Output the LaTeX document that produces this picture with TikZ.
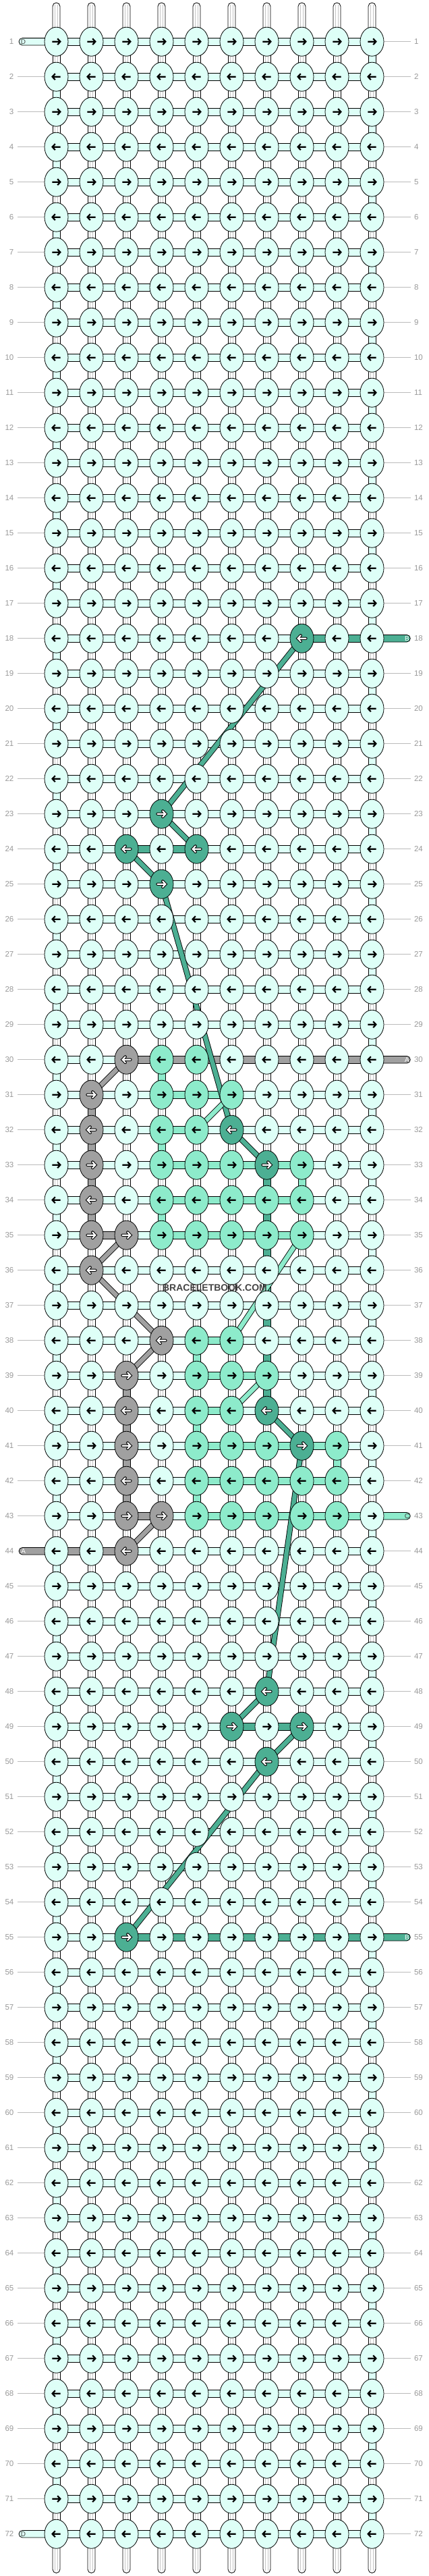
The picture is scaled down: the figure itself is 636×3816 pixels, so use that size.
\documentclass[tikz,border=0pt]{standalone}
\usepackage{fontspec}
\setmainfont{Liberation Sans}
\usetikzlibrary{shapes.geometric}
\definecolor{colD}{HTML}{DEFFF7}
\definecolor{colB}{HTML}{4CAF93}
\definecolor{colC}{HTML}{8DEBCB}
\definecolor{colA}{HTML}{A0A0A0}
\definecolor{colW}{HTML}{FFFFFF}
\definecolor{lblgray}{HTML}{999999}
\definecolor{linegray}{HTML}{BBBBBB}
\definecolor{tubegray}{HTML}{C4C4C4}
\definecolor{wmgray}{HTML}{444444}
\newcommand\SetK[3]{\expandafter\gdef\csname K-#1-#2\endcsname{#3}}
\newcommand\SetH[3]{\expandafter\gdef\csname H-#1-#2\endcsname{#3}}
\newcommand\SetV[3]{\expandafter\gdef\csname V-#1-#2\endcsname{#3}}
\def\tmpW{W}\def\tmpA{A}\def\tmpB{B}
\begin{document}
\begin{tikzpicture}[x=1pt,y=-1pt,
  knot/.style={ellipse,draw=black,line width=0.8pt,minimum width=35pt,minimum height=43pt,inner sep=0pt},
  segline/.style={draw=black,line width=0.8pt},
  lbl/.style={text=lblgray,font=\fontsize{11.5}{12}\selectfont,inner sep=0pt},
  lblline/.style={draw=linegray,line width=0.8pt},
  tubeline/.style={draw=tubegray,line width=0.5pt},
  arrowblack/.style={draw=black,line width=2.2pt,line join=miter},
  arrowout/.style={draw=black,line width=4.2pt,line join=miter,line cap=round},
  arrowwhite/.style={draw=white,line width=2.1pt,line join=miter,line cap=round}]
\useasboundingbox (0,0) rectangle (636,3816);
\fill[white] (0,0) rectangle (636,3816);
% ---------- data ----------
\foreach \cc/\rr in {8/18,4/23,3/24,5/24,4/25,6/32,7/33,7/40,8/41,7/48,6/49,8/49,7/50,3/55}{\SetK{\cc}{\rr}{B}}
\foreach \cc/\rr in {3/30,2/31,2/32,2/33,2/34,2/35,3/35,2/36,4/38,3/39,3/40,3/41,3/42,3/43,4/43,3/44}{\SetK{\cc}{\rr}{A}}
\foreach \cc/\rr in {4/30,5/30,4/31,5/31,6/31,4/32,5/32,4/33,5/33,6/33,8/33,4/34,5/34,6/34,7/34,8/34,4/35,5/35,6/35,7/35,8/35,5/38,6/38,5/39,6/39,7/39,5/40,6/40,5/41,6/41,7/41,9/41,5/42,6/42,7/42,8/42,9/42,5/43,6/43,7/43,8/43,9/43}{\SetK{\cc}{\rr}{C}}
\foreach \cc/\rr in {8/18,9/18,3/24,4/24,6/49,7/49,3/55,4/55,5/55,6/55,7/55,8/55,9/55}{\SetH{\cc}{\rr}{B}}
\foreach \cc/\rr in {3/30,4/30,5/30,6/30,7/30,8/30,9/30,2/35,3/43,1/44,2/44}{\SetH{\cc}{\rr}{A}}
\foreach \cc/\rr in {4/31,5/31,4/32,4/33,5/33,6/33,7/33,4/34,5/34,6/34,7/34,4/35,5/35,6/35,7/35,5/38,5/39,6/39,5/40,5/41,6/41,7/41,8/41,5/42,6/42,7/42,8/42,5/43,6/43,7/43,8/43,9/43}{\SetH{\cc}{\rr}{C}}
\foreach \cc/\rr in {2/31,2/32,2/33,2/34,3/39,3/40,3/41,3/42}{\SetV{\cc}{\rr}{A}}
\foreach \cc/\rr in {7/33,7/34,7/35,7/36,7/37,7/38,7/39}{\SetV{\cc}{\rr}{B}}
\foreach \cc/\rr in {4/30,4/32,4/34,8/33,5/38,5/40,5/42,9/41}{\SetV{\cc}{\rr}{C}}
% ---------- grid points ----------
\foreach \rr in {1,...,72}{\foreach \cc in {1,...,10}{
  \coordinate (p-\cc-\rr) at ({83.5+52*(\cc-1)},{61.7+52*(\rr-1)});}}
% ---------- top and bottom string ends ----------
\foreach \cc in {1,...,10}{
  \coordinate (t-\cc) at ({83.5+52*(\cc-1)},9.5);
  \coordinate (b-\cc) at ({83.5+52*(\cc-1)},3806);
  \filldraw[fill=white,segline] ([xshift=-5.5pt]p-\cc-1) -- ([xshift=-5.5pt]t-\cc) arc[start angle=180,end angle=360,radius=5.5] -- ([xshift=5.5pt]p-\cc-1) -- cycle;
  \draw[tubeline] ([xshift=-2pt,yshift=2pt]t-\cc) -- ([xshift=-2pt]p-\cc-1) ([xshift=2pt,yshift=2pt]t-\cc) -- ([xshift=2pt]p-\cc-1);
  \filldraw[fill=white,segline] ([xshift=5.5pt]p-\cc-72) -- ([xshift=5.5pt]b-\cc) arc[start angle=0,end angle=180,radius=5.5] -- ([xshift=-5.5pt]p-\cc-72) -- cycle;
  \draw[tubeline] ([xshift=-2pt,yshift=-2pt]b-\cc) -- ([xshift=-2pt]p-\cc-72) ([xshift=2pt,yshift=-2pt]b-\cc) -- ([xshift=2pt]p-\cc-72);
}
% ---------- vertical segments ----------
\foreach \rr in {1,...,71}{
  \pgfmathtruncatemacro\rn{\rr+1}
  \foreach \cc in {1,...,10}{
    \ifcsname V-\cc-\rr\endcsname
      \xdef\vcol{\csname V-\cc-\rr\endcsname}%
    \else
      \gdef\vcol{W}%
      \ifodd\rr\relax \ifnum\cc=10\relax\gdef\vcol{D}\fi \else \ifnum\cc=1\relax\gdef\vcol{D}\fi \fi
    \fi
    \ifx\vcol\tmpW
      \filldraw[fill=white,segline] ([xshift=-5.5pt]p-\cc-\rr) rectangle ([xshift=5.5pt]p-\cc-\rn);
      \draw[tubeline] ([xshift=-2pt]p-\cc-\rr) -- ([xshift=-2pt]p-\cc-\rn) ([xshift=2pt]p-\cc-\rr) -- ([xshift=2pt]p-\cc-\rn);
    \else
      \filldraw[fill=col\vcol,segline] ([xshift=-5.5pt]p-\cc-\rr) rectangle ([xshift=5.5pt]p-\cc-\rn);
    \fi
  }
}
% ---------- horizontal segments ----------
\foreach \rr in {1,...,72}{
  \foreach \cc in {1,...,9}{
    \pgfmathtruncatemacro\cn{\cc+1}
    \ifcsname H-\cc-\rr\endcsname
      \xdef\hcol{\csname H-\cc-\rr\endcsname}%
    \else
      \gdef\hcol{D}%
    \fi
    \filldraw[fill=col\hcol,segline] ([yshift=5.3pt]p-\cc-\rr) rectangle ([yshift=-5.3pt]p-\cn-\rr);
  }
}
% ---------- side string ends ----------
\foreach \rr/\tc/\tl/\tlc in {1/D/D/wmgray,72/D/D/wmgray,44/A/A/white}{
  \coordinate (el-\rr) at (33.3,{61.7+52*(\rr-1)});
  \filldraw[fill=col\tc,segline] ([yshift=5.3pt]p-1-\rr) -- ([yshift=5.3pt]el-\rr) arc[start angle=270,end angle=90,radius=5.3] -- ([yshift=-5.3pt]p-1-\rr) -- cycle;
  \node[text=\tlc,font=\fontsize{10}{10}\selectfont,inner sep=0pt] (elt-\rr) at ([xshift=1.3pt]el-\rr) {\tl};
}
\foreach \rr/\tc/\tl/\tlc in {18/B/B/white,30/A/A/white,43/C/C/wmgray,55/B/B/white}{
  \coordinate (er-\rr) at (603,{61.7+52*(\rr-1)});
  \filldraw[fill=col\tc,segline] ([yshift=5.3pt]p-10-\rr) -- ([yshift=5.3pt]er-\rr) arc[start angle=-90,end angle=90,radius=5.3] -- ([yshift=-5.3pt]p-10-\rr) -- cycle;
  \node[text=\tlc,font=\fontsize{10}{10}\selectfont,inner sep=0pt] (ert-\rr) at ([xshift=0.5pt]er-\rr) {\tl};
}
% ---------- row label lines ----------
\foreach \rr in {1,...,72}{
  \coordinate (ll-\rr) at (26,{61.7+52*(\rr-1)});
  \coordinate (lr-\rr) at (609,{61.7+52*(\rr-1)});
  \ifnum\rr=1\relax\else\ifnum\rr=72\relax\else\ifnum\rr=44\relax\else
    \draw[lblline] (ll-\rr) -- (p-1-\rr);
  \fi\fi\fi
  \ifnum\rr=18\relax\else\ifnum\rr=30\relax\else\ifnum\rr=43\relax\else\ifnum\rr=55\relax\else
    \draw[lblline] (p-10-\rr) -- (lr-\rr);
  \fi\fi\fi\fi
}
% ---------- diagonal strings ----------
\foreach \dc/\ca/\ra/\cb/\rb in {B/8/18/4/23,B/4/23/5/24,B/3/24/4/25,B/4/25/6/32,B/6/32/7/33,B/7/40/8/41,B/8/41/7/48,B/7/48/6/49,B/8/49/7/50,B/7/50/3/55,
  A/3/30/2/31,A/3/35/2/36,A/2/36/4/38,A/4/38/3/39,A/4/43/3/44,
  C/6/31/5/32,C/8/35/6/38,C/7/39/6/40}{
  \draw[black,line width=8.4pt] (p-\ca-\ra) -- (p-\cb-\rb);
  \draw[col\dc,line width=6.6pt] (p-\ca-\ra) -- (p-\cb-\rb);
}
% ---------- knots ----------
\foreach \rr in {1,...,72}{
  \ifodd\rr\relax\gdef\ad{1}\else\gdef\ad{-1}\fi
  \foreach \cc in {1,...,10}{
    \ifcsname K-\cc-\rr\endcsname
      \xdef\kcol{\csname K-\cc-\rr\endcsname}%
    \else
      \gdef\kcol{D}%
    \fi
    \node[knot,fill=col\kcol] (k-\cc-\rr) at (p-\cc-\rr) {};
    \gdef\wa{0}%
    \ifx\kcol\tmpA\gdef\wa{1}\fi
    \ifx\kcol\tmpB\gdef\wa{1}\fi
    \begin{scope}[shift={(k-\cc-\rr.center)},xscale=\ad]
      \ifnum\wa=1\relax
        \draw[arrowout] (-6,0) -- (5,0) (1.7,-4.4) -- (5.9,0) -- (1.7,4.4);
        \draw[arrowwhite] (-6,0) -- (5,0) (1.7,-4.4) -- (5.9,0) -- (1.7,4.4);
      \else
        \draw[arrowblack] (-6.2,0) -- (5,0) (1.7,-4.5) -- (5.9,0) -- (1.7,4.5);
      \fi
    \end{scope}
  }
}
% ---------- row numbers ----------
\foreach \rr in {1,...,72}{
  \node[lbl,anchor=east] (nl-\rr) at (20.5,{61.7+52*(\rr-1)}) {\rr};
  \node[lbl,anchor=west] (nr-\rr) at (613.8,{61.7+52*(\rr-1)}) {\rr};
}
% ---------- watermark ----------
\node[text=wmgray,font=\bfseries\fontsize{14}{14}\selectfont,inner sep=0pt] (wm) at (318.5,1907.5) {BRACELETBOOK.COM};
\end{tikzpicture}
\end{document}
